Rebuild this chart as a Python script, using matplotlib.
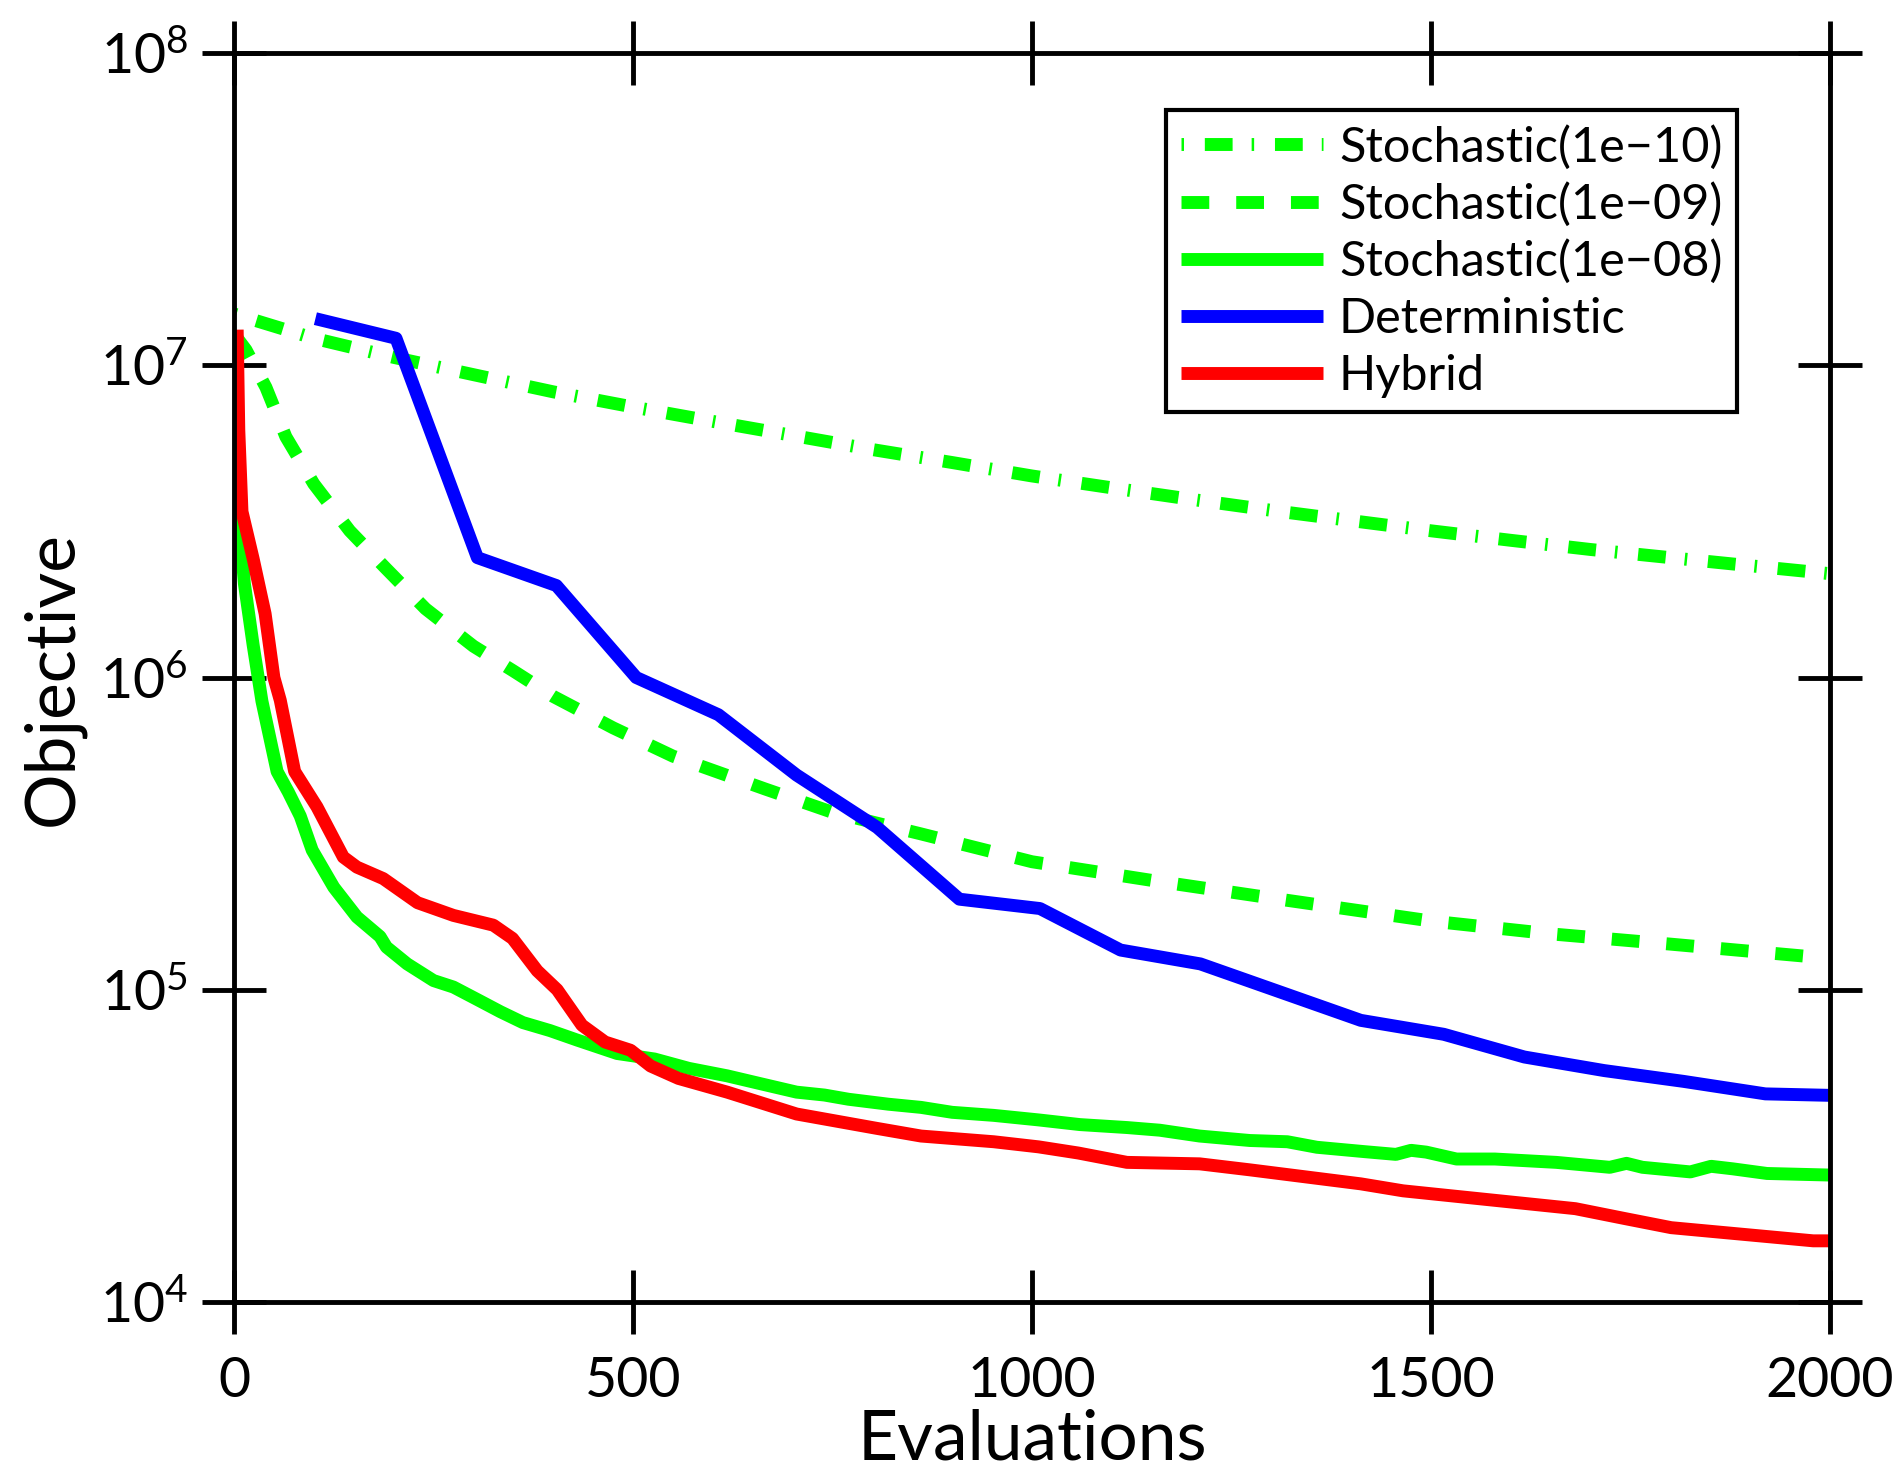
import numpy as np
import matplotlib
matplotlib.use("Agg")
from matplotlib import pyplot as plt
from matplotlib.ticker import FixedLocator, FuncFormatter, NullLocator

plt.rcParams['font.family'] = ['Lato', 'DejaVu Sans']
plt.rcParams['mathtext.fontset'] = 'custom'
plt.rcParams['mathtext.rm'] = 'Lato'
plt.rcParams['lines.scale_dashes'] = False

# Stochastic(1e-10), dash-dot
s10_x = [0, 100, 200, 300, 400, 500, 600, 700, 800, 900, 1000,
         1100, 1200, 1300, 1400, 1500, 1600, 1700, 1800, 1900, 2000]
s10_y = [1.46e7, 1.22e7, 1.06e7, 9.33e6, 8.22e6, 7.35e6, 6.61e6, 5.96e6, 5.37e6, 4.88e6, 4.42e6,
         4.05e6, 3.72e6, 3.43e6, 3.18e6, 2.95e6, 2.75e6, 2.57e6, 2.42e6, 2.28e6, 2.15e6]

# Stochastic(1e-09), dashed
s09_x = [0, 15, 40, 65, 100, 145, 190, 240, 300, 350, 400, 475, 550, 665,
         750, 860, 1000, 1150, 1310, 1500, 1650, 1800, 2000]
s09_y = [1.26e7, 1.12e7, 8.5e6, 5.9e6, 4.17e6, 2.95e6, 2.24e6, 1.66e6, 1.26e6, 1.05e6, 8.7e5, 6.9e5, 5.6e5, 4.4e5,
         3.7e5, 3.16e5, 2.57e5, 2.24e5, 1.95e5, 1.66e5, 1.51e5, 1.40e5, 1.26e5]

# Stochastic(1e-08), solid green
s08_x = [0, 3, 13, 24, 35, 54, 68, 83, 98, 125, 154, 183, 191, 217, 250, 275, 305, 334,
         362, 396, 430, 480, 527, 570, 618, 660, 705, 740, 770, 820, 861, 900, 952, 1008,
         1060, 1119, 1160, 1210, 1273, 1320, 1357, 1417, 1456, 1475, 1494, 1532, 1580, 1657,
         1724, 1745, 1765, 1825, 1851, 1878, 1921, 2000]
s08_y = [1.2e7, 4.1e6, 2.0e6, 1.27e6, 8.4e5, 5.0e5, 4.3e5, 3.6e5, 2.8e5, 2.13e5, 1.71e5, 1.48e5, 1.37e5, 1.21e5, 1.07e5, 1.02e5, 9.3e4, 8.5e4,
         7.85e4, 7.4e4, 6.9e4, 6.25e4, 6.0e4, 5.6e4, 5.3e4, 5.0e4, 4.7e4, 4.6e4, 4.46e4, 4.3e4, 4.2e4, 4.05e4, 3.96e4, 3.83e4,
         3.7e4, 3.62e4, 3.55e4, 3.4e4, 3.29e4, 3.26e4, 3.13e4, 3.03e4, 2.97e4, 3.06e4, 3.02e4, 2.87e4, 2.87e4, 2.80e4,
         2.70e4, 2.78e4, 2.70e4, 2.61e4, 2.72e4, 2.67e4, 2.58e4, 2.55e4]

# Deterministic
det_x = [102, 203, 305, 404, 504, 607, 705, 806, 909, 1010, 1111, 1211,
         1412, 1516, 1617, 1717, 1816, 1919, 2000]
det_y = [1.41e7, 1.22e7, 2.42e6, 1.97e6, 1.0e6, 7.6e5, 4.87e5, 3.31e5, 1.95e5, 1.82e5, 1.34e5, 1.21e5,
         7.98e4, 7.2e4, 6.09e4, 5.51e4, 5.09e4, 4.64e4, 4.59e4]

# Hybrid
hyb_x = [4, 6, 10, 24, 39, 50, 58, 76, 104, 137, 154, 187, 230, 275, 325, 349, 380, 405,
         436, 465, 497, 522, 557, 618, 705, 805, 861, 952, 1008, 1058, 1119, 1210, 1273,
         1412, 1465, 1681, 1743, 1801, 1979, 2000]
hyb_y = [1.3e7, 6.2e6, 3.4e6, 2.4e6, 1.6e6, 1.0e6, 8.45e5, 5.0e5, 3.85e5, 2.66e5, 2.47e5, 2.27e5, 1.9e5, 1.73e5, 1.61e5, 1.46e5, 1.15e5, 1.0e5,
         7.7e4, 6.8e4, 6.4e4, 5.7e4, 5.2e4, 4.7e4, 4.0e4, 3.6e4, 3.4e4, 3.26e4, 3.14e4, 3.0e4, 2.8e4, 2.77e4, 2.65e4,
         2.39e4, 2.27e4, 1.99e4, 1.85e4, 1.73e4, 1.57e4, 1.57e4]

xticks = [0, 500, 1000, 1500, 2000]
yticks = [1e4, 1e5, 1e6, 1e7, 1e8]

green = '#00ff00'
lw = 9.3

fig = plt.figure(figsize=(19, 14.77), dpi=100)
ax = fig.add_axes([234 / 1900, 1 - 1302 / 1477, (1830 - 234) / 1900, (1302 - 53) / 1477])

ax.plot(s10_x, s10_y, color=green, lw=lw, dashes=(1.8, 15, 20, 13.7), label='Stochastic(1e\u221210)')
ax.plot(s09_x, s09_y, color=green, lw=lw, dashes=(20, 19.4), label='Stochastic(1e\u221209)')
ax.plot(s08_x, s08_y, color=green, lw=lw, solid_capstyle='butt', label='Stochastic(1e\u221208)')
ax.plot(det_x, det_y, color='#0000ff', lw=lw, solid_capstyle='butt', label='Deterministic')
ax.plot(hyb_x, hyb_y, color='#ff0000', lw=lw, solid_capstyle='butt', label='Hybrid')

ax.set_yscale('log')
ax.set_xlim(0, 2000)
ax.set_ylim(1e4, 1e8)
ax.xaxis.set_major_locator(FixedLocator(xticks))
ax.yaxis.set_major_locator(FixedLocator(yticks))
ax.yaxis.set_minor_locator(NullLocator())
ax.yaxis.set_major_formatter(FuncFormatter(lambda v, p: r'$\mathregular{10^{%d}}$' % round(np.log10(v))))
ax.tick_params(which='major', direction='inout', length=46, width=3.5,
               top=True, right=True, labelsize=40)
ax.tick_params(axis='x', pad=16)
ax.tick_params(axis='y', pad=10)
for sp in ax.spines.values():
    sp.set_linewidth(3.5)

fig.text(72 / 1900, 1 - 679 / 1477, 'Objective', rotation=90, rotation_mode='anchor',
         ha='center', va='baseline', fontsize=50)
fig.text(1032 / 1900, 0.012, 'Evaluations', ha='center', va='baseline', fontsize=50)

leg = ax.legend(loc='upper right', bbox_to_anchor=(1737 / 1900, 1 - 110 / 1477),
                bbox_transform=fig.transFigure, borderaxespad=0, fontsize=35,
                fancybox=False, edgecolor='black', framealpha=1,
                handlelength=2.92, handletextpad=0.33, borderpad=0.3, labelspacing=0.26)
leg.get_frame().set_linewidth(3)

fig.savefig('out.png', dpi=100)
